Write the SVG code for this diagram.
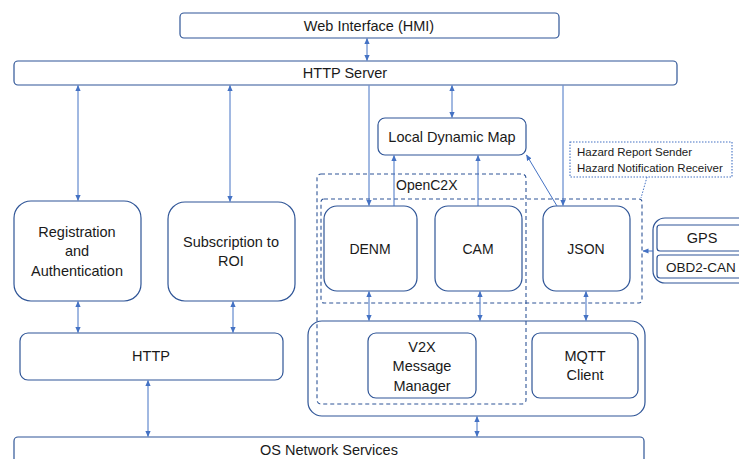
<svg xmlns="http://www.w3.org/2000/svg" width="739" height="459" viewBox="0 0 739 459">
  <defs>
    <marker id="ah" viewBox="0 0 6 6" refX="5.5" refY="3" markerWidth="6" markerHeight="6" markerUnits="userSpaceOnUse" orient="auto-start-reverse">
      <path d="M0,0.4 L6,3 L0,5.6 z" fill="#4472c4"/>
    </marker>
  </defs>
  <style>
    .box { fill: #ffffff; stroke: #2f5597; stroke-width: 1.2; }
    .dash { fill: none; stroke: #2f5597; stroke-width: 1.1; stroke-dasharray: 4 3; }
    .dot { fill: #ffffff; stroke: #4472c4; stroke-width: 1.1; stroke-dasharray: 1.5 1.5; }
    .ln { fill: none; stroke: #4472c4; stroke-width: 1; }
    .two { marker-start: url(#ah); marker-end: url(#ah); }
    .one { marker-end: url(#ah); }
    text { font-family: "Liberation Sans", Arial, sans-serif; font-size: 14.5px; fill: #1a1a1a; text-anchor: middle; }
    .small { font-size: 11.5px; text-anchor: start; }
  </style>
  <rect width="739" height="459" fill="#ffffff"/>

  <!-- grouping frames -->
  <g id="frames">
    <rect class="box" x="308" y="321" width="337" height="95" rx="14"/>
    <rect class="dash" x="317" y="174" width="209" height="230" rx="4"/>
    <rect class="dash" x="321" y="199" width="321" height="104" rx="3"/>
    <text x="396" y="190" style="text-anchor:start;font-size:14px">OpenC2X</text>
  </g>

  <g id="web-interface">
    <rect class="box" x="180" y="13" width="379" height="25" rx="4"/>
    <text x="369" y="31">Web Interface (HMI)</text>
  </g>

  <g id="http-server">
    <rect class="box" x="14" y="61" width="663" height="24" rx="4"/>
    <text x="345" y="78">HTTP Server</text>
  </g>

  <g id="ldm">
    <rect class="box" x="378" y="118" width="148" height="37" rx="7"/>
    <text x="452" y="142">Local Dynamic Map</text>
  </g>

  <g id="hazard-note">
    <rect class="dot" x="570" y="142" width="162" height="35"/>
    <text class="small" x="577" y="156">Hazard Report Sender</text>
    <text class="small" x="577" y="172">Hazard Notification Receiver</text>
  </g>

  <g id="registration">
    <rect class="box" x="14" y="201" width="127" height="100" rx="17"/>
    <text x="77" y="237">Registration</text>
    <text x="77" y="256">and</text>
    <text x="77" y="276">Authentication</text>
  </g>

  <g id="subscription">
    <rect class="box" x="168" y="202" width="127" height="99" rx="17"/>
    <text x="231" y="247">Subscription to</text>
    <text x="231" y="266">ROI</text>
  </g>

  <g id="http">
    <rect class="box" x="20" y="333" width="263" height="47" rx="8"/>
    <text x="151" y="361">HTTP</text>
  </g>

  <g id="denm">
    <rect class="box" x="324" y="206" width="93" height="85" rx="13"/>
    <text x="370" y="254" style="font-size:14px">DENM</text>
  </g>

  <g id="cam">
    <rect class="box" x="435" y="206" width="87" height="85" rx="13"/>
    <text x="478" y="254" style="font-size:14px">CAM</text>
  </g>

  <g id="json">
    <rect class="box" x="543" y="206" width="87" height="85" rx="13"/>
    <text x="586" y="254" style="font-size:14px">JSON</text>
  </g>

  <g id="v2x-manager">
    <rect class="box" x="368" y="333" width="108" height="65" rx="8"/>
    <text x="422" y="352">V2X</text>
    <text x="422" y="371">Message</text>
    <text x="422" y="391">Manager</text>
  </g>

  <g id="mqtt-client">
    <rect class="box" x="532" y="333" width="106" height="65" rx="8"/>
    <text x="585" y="361">MQTT</text>
    <text x="585" y="380">Client</text>
  </g>

  <g id="sensors">
    <rect class="box" x="653" y="218" width="100" height="65" rx="12"/>
    <rect class="box" x="657" y="225" width="90" height="26" rx="3"/>
    <text x="702" y="243">GPS</text>
    <rect class="box" x="657" y="255" width="90" height="23" rx="3"/>
    <text x="701" y="272" style="font-size:13.5px">OBD2-CAN</text>
  </g>

  <g id="os-network">
    <rect class="box" x="14" y="437" width="630" height="40" rx="4"/>
    <text x="329" y="455">OS Network Services</text>
  </g>

  <g id="connectors">
    <line class="ln two" x1="367" y1="38.5" x2="367" y2="60.5"/>
    <line class="ln two" x1="78" y1="85.5" x2="78" y2="200.5"/>
    <line class="ln two" x1="230" y1="85.5" x2="230" y2="201.5"/>
    <line class="ln two" x1="452" y1="85.5" x2="452" y2="117.5"/>
    <line class="ln one" x1="369" y1="85.5" x2="369" y2="205.5"/>
    <line class="ln one" x1="563" y1="85.5" x2="563" y2="205.5"/>
    <line class="ln one" x1="394" y1="206" x2="394" y2="155.5"/>
    <line class="ln one" x1="478" y1="206" x2="478" y2="155.5"/>
    <line class="ln one" x1="557" y1="206" x2="526.5" y2="155"/>
    <path class="ln" d="M647,177 L641,198" style="stroke-dasharray:1.5 1.5"/>
    <line class="ln one" x1="653" y1="251" x2="643" y2="251"/>
    <line class="ln two" x1="369" y1="291.5" x2="369" y2="320.5"/>
    <line class="ln two" x1="480" y1="291.5" x2="480" y2="320.5"/>
    <line class="ln two" x1="586" y1="291.5" x2="586" y2="320.5"/>
    <line class="ln two" x1="78" y1="301.5" x2="78" y2="332.5"/>
    <line class="ln two" x1="233" y1="301.5" x2="233" y2="332.5"/>
    <line class="ln two" x1="148" y1="380.5" x2="148" y2="436.5"/>
    <line class="ln two" x1="477" y1="416.5" x2="477" y2="436.5"/>
  </g>
</svg>
